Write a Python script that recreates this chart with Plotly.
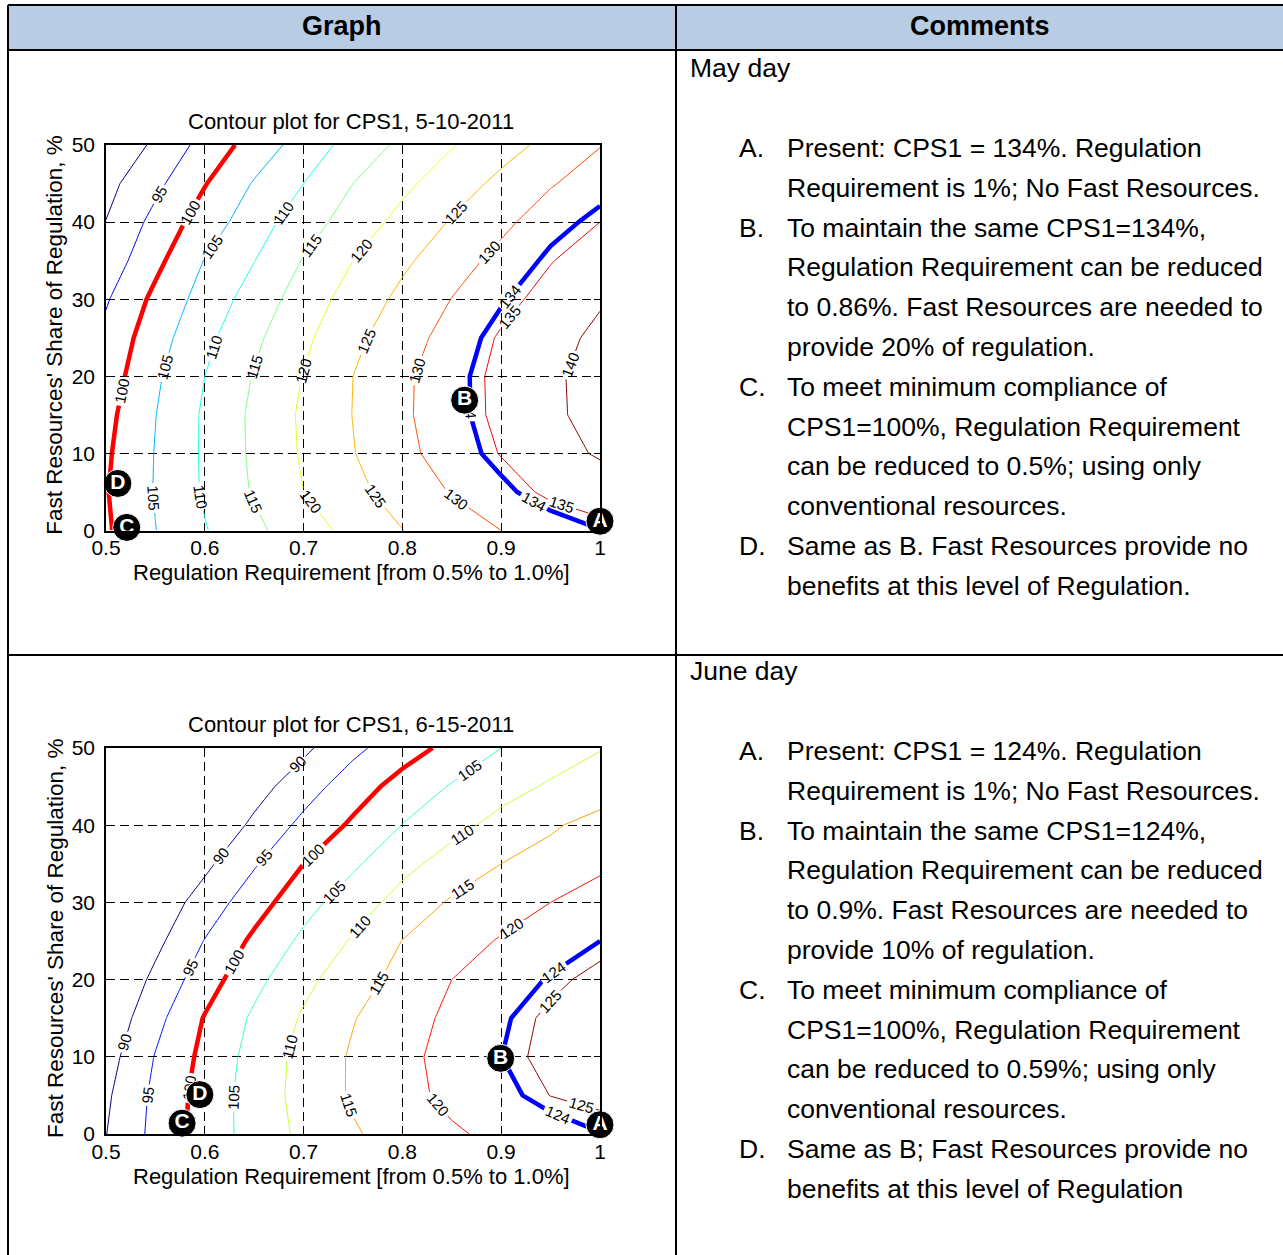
import plotly.graph_objects as go

W, H = 1283, 1255
FONT = "Liberation Sans, Arial, sans-serif"

# ---- data -----------------------------------------------------------------
# Grid: regulation requirement (x) and fast resources' share of regulation (y)
reg_req = [0.50, 0.55, 0.60, 0.65, 0.70, 0.75, 0.80, 0.85, 0.90, 0.95, 1.00]
fast_share = [0, 5, 10, 15, 20, 25, 30, 35, 40, 45, 50]

# CPS1 (%) on the grid, one row per fast_share value
cps1_may = [
    [99.3, 104.9, 109.7, 113.9, 117.8, 121.5, 124.9, 127.5, 130.0, 132.0, 133.9],
    [99.7, 105.3, 110.6, 115.5, 120.0, 123.7, 127.1, 130.3, 133.1, 135.9, 137.0],
    [99.3, 105.2, 110.7, 115.9, 120.6, 124.8, 128.7, 132.2, 135.2, 138.0, 140.6],
    [98.6, 104.9, 110.7, 116.0, 120.8, 125.1, 129.2, 132.8, 136.0, 139.0, 141.9],
    [97.4, 104.2, 110.0, 115.3, 120.2, 125.0, 129.1, 132.8, 136.1, 139.1, 142.0],
    [96.3, 102.9, 108.7, 114.0, 119.0, 123.8, 127.9, 131.8, 135.5, 138.3, 141.1],
    [94.5, 101.2, 107.0, 112.1, 117.4, 122.0, 126.2, 130.1, 133.6, 136.6, 139.5],
    [92.0, 98.7, 105.2, 109.9, 115.3, 120.0, 124.1, 127.8, 131.5, 134.8, 137.3],
    [90.1, 96.5, 102.4, 107.7, 112.7, 117.3, 121.5, 125.4, 128.8, 132.7, 135.0],
    [88.5, 93.8, 99.75, 105.4, 110.0, 115.0, 118.9, 122.6, 126.2, 129.6, 132.6],
    [85.3, 91.0, 96.7, 102.1, 107.1, 111.9, 116.1, 119.7, 123.1, 126.4, 129.8],
]
cps1_june = [
    [89.9, 96.4, 102.1, 107.0, 111.1, 114.5, 117.0, 119.4, 121.1, 122.6, 123.9],
    [89.2, 96.1, 102.0, 107.2, 111.7, 115.6, 118.6, 121.1, 123.2, 125.05, 125.7],
    [87.9, 95.25, 101.3, 106.8, 111.6, 115.6, 118.8, 121.55, 123.97, 125.9, 126.6],
    [86.2, 93.5, 100.3, 105.8, 110.6, 114.75, 118.05, 121.0, 123.6, 125.6, 126.6],
    [84.5, 91.2, 97.7, 103.6, 108.7, 112.9, 116.6, 120.0, 122.2, 124.3, 125.9],
    [82.2, 88.7, 95.2, 101.0, 106.05, 110.5, 115.1, 117.9, 120.4, 122.2, 124.0],
    [81.2, 86.7, 92.2, 97.8, 103.2, 107.6, 111.8, 115.6, 117.8, 120.0, 122.0],
    [77.5, 83.2, 88.9, 94.5, 100.0, 104.2, 108.6, 112.0, 115.0, 117.0, 119.1],
    [74.6, 80.1, 85.6, 91.0, 96.3, 100.8, 105.1, 108.5, 111.5, 114.3, 117.0],
    [73.6, 78.4, 83.2, 88.0, 92.8, 97.6, 101.9, 105.4, 108.3, 110.6, 112.0],
    [69.8, 74.6, 79.4, 84.2, 89.0, 93.8, 97.8, 101.4, 105.0, 107.5, 109.8],
]

levels_may = [90, 95, 105, 110, 115, 120, 125, 130, 135, 140]
levels_june = [90, 95, 105, 110, 115, 120, 125]
min_compliance = 100
present_may = 134
present_june = 124

point_labels = ["A", "B", "C", "D"]
points_may_x = [1.0, 0.863, 0.521, 0.512]
points_may_y = [1.2, 16.9, 0.4, 6.1]
points_june_x = [1.0, 0.8995, 0.577, 0.595]
points_june_y = [1.2, 9.8, 1.4, 5.1]

titles = ["Contour plot for CPS1, 5-10-2011", "Contour plot for CPS1, 6-15-2011"]
x_title = "Regulation Requirement [from 0.5% to 1.0%]"
y_title = "Fast Resources' Share of Regulation, %"
x_tickvals = [0.5, 0.6, 0.7, 0.8, 0.9, 1.0]
x_ticktext = ["0.5", "0.6", "0.7", "0.8", "0.9", "1"]
y_tickvals = [0, 10, 20, 30, 40, 50]

comments = [
    ("May day", [
        ("A.", ["Present: CPS1 = 134%. Regulation",
                "Requirement is 1%; No Fast Resources."]),
        ("B.", ["To maintain the same CPS1=134%,",
                "Regulation Requirement can be reduced",
                "to 0.86%. Fast Resources are needed to",
                "provide 20% of regulation."]),
        ("C.", ["To meet minimum compliance of",
                "CPS1=100%, Regulation Requirement",
                "can be reduced to 0.5%; using only",
                "conventional resources."]),
        ("D.", ["Same as B. Fast Resources provide no",
                "benefits at this level of Regulation."]),
    ]),
    ("June day", [
        ("A.", ["Present: CPS1 = 124%. Regulation",
                "Requirement is 1%; No Fast Resources."]),
        ("B.", ["To maintain the same CPS1=124%,",
                "Regulation Requirement can be reduced",
                "to 0.9%. Fast Resources are needed to",
                "provide 10% of regulation."]),
        ("C.", ["To meet minimum compliance of",
                "CPS1=100%, Regulation Requirement",
                "can be reduced to 0.59%; using only",
                "conventional resources."]),
        ("D.", ["Same as B; Fast Resources provide no",
                "benefits at this level of Regulation"]),
    ]),
]


# ---- helpers ----------------------------------------------------------------
def px(x):
    return x / W


def py(y):
    return 1 - y / H


def jet(t):
    t = min(max(t, 0.0), 1.0)
    def ch(c):
        return int(round(255 * min(max(1.5 - abs(4 * t - c), 0.0), 1.0)))
    return f"rgb({ch(3)},{ch(2)},{ch(1)})"


# One contour level per trace.  The level list is padded with far-off empty
# levels (above any CPS1 value) so plotly spaces several labels along each line.
LABEL_PAD_LEVELS = 60
LEVEL_STEP = 1000


def contour_line(z, level, color, width, xa, ya):
    return go.Contour(
        x=reg_req, y=fast_share, z=z, xaxis=xa, yaxis=ya,
        autocontour=False,
        contours=dict(start=level, end=level + LEVEL_STEP * (LABEL_PAD_LEVELS - 1),
                      size=LEVEL_STEP, coloring="none", showlabels=True,
                      labelformat=".0f",
                      labelfont=dict(size=15, color="black", family=FONT)),
        line=dict(color=color, width=width, smoothing=0),
        showscale=False, hoverinfo="skip",
    )


fig = go.Figure()

panels = [
    (cps1_may, levels_may, present_may, points_may_x, points_may_y, "x", "y"),
    (cps1_june, levels_june, present_june, points_june_x, points_june_y, "x2", "y2"),
]
for z, levels, present, mx, my, xa, ya in panels:
    lo, hi = min(levels), max(levels)
    for lev in levels:
        fig.add_trace(contour_line(z, lev, jet((lev - lo) / (hi - lo)), 1, xa, ya))
    fig.add_trace(contour_line(z, min_compliance, "#ff0000", 4.5, xa, ya))
    fig.add_trace(contour_line(z, present, "#0000ff", 4.5, xa, ya))
    fig.add_trace(go.Scatter(
        x=mx, y=my, xaxis=xa, yaxis=ya, mode="markers+text",
        text=[f"<b>{t}</b>" for t in point_labels], textposition="middle center",
        textfont=dict(size=21, color="white", family=FONT),
        marker=dict(size=28, color="black", line=dict(color="white", width=1)),
        cliponaxis=False, hoverinfo="skip", showlegend=False,
    ))

# plot areas in pixels: left, right, top, bottom
plot_boxes = [(106, 600, 145, 530.5), (106, 600, 748, 1134)]

axis_common = dict(
    showgrid=True, griddash="9px,5px", gridcolor="black", gridwidth=1,
    ticks="inside", ticklen=6, tickcolor="black", tickwidth=1,
    showline=True, linecolor="black", linewidth=1.5, mirror="ticks",
    zeroline=False, automargin=False,
    tickfont=dict(size=21, color="black", family=FONT),
)

layout_axes = {}
for i, (l, r, t, b) in enumerate(plot_boxes):
    sfx = "" if i == 0 else str(i + 1)
    layout_axes["xaxis" + sfx] = dict(
        axis_common, domain=[px(l), px(r)], range=[0.5, 1.0],
        tickvals=x_tickvals, ticktext=x_ticktext, anchor="y" + sfx,
        ticklabelstandoff=-2)
    layout_axes["yaxis" + sfx] = dict(
        axis_common, domain=[py(b), py(t)], range=[0, 50],
        tickvals=y_tickvals, anchor="x" + sfx, ticklabelstandoff=5)

annotations = []
for (l, r, t, b), title in zip(plot_boxes, titles):
    cx = (l + r) / 2
    annotations.append(dict(x=px(cx - 2), y=py(t - 24), text=title, showarrow=False,
                            xref="paper", yref="paper", xanchor="center", yanchor="middle",
                            font=dict(size=22, color="black", family=FONT)))
    annotations.append(dict(x=px(cx - 2), y=py(b + 42), text=x_title, showarrow=False,
                            xref="paper", yref="paper", xanchor="center", yanchor="middle",
                            font=dict(size=22, color="black", family=FONT)))
    annotations.append(dict(x=px(55), y=py((t + b) / 2 - 3), text=y_title, showarrow=False,
                            textangle=-90, xref="paper", yref="paper",
                            xanchor="center", yanchor="middle",
                            font=dict(size=22.5, color="black", family=FONT)))

# table header
annotations.append(dict(x=px(342), y=py(26), text="<b>Graph</b>", showarrow=False,
                        xref="paper", yref="paper", xanchor="center", yanchor="middle",
                        font=dict(size=27, color="black", family=FONT)))
annotations.append(dict(x=px(980), y=py(26), text="<b>Comments</b>", showarrow=False,
                        xref="paper", yref="paper", xanchor="center", yanchor="middle",
                        font=dict(size=27, color="black", family=FONT)))

# comment column
row_tops = [68, 671]
line_gap = 39.8
for (heading, items), top in zip(comments, row_tops):
    annotations.append(dict(x=px(688), y=py(top), text=heading, showarrow=False,
                            xref="paper", yref="paper", xanchor="left", yanchor="middle",
                            font=dict(size=26.5, color="black", family=FONT)))
    k = 0
    for letter, lines in items:
        annotations.append(dict(x=px(737), y=py(top + 80 + k * line_gap), text=letter,
                                showarrow=False, xref="paper", yref="paper",
                                xanchor="left", yanchor="middle",
                                font=dict(size=26.5, color="black", family=FONT)))
        for line in lines:
            annotations.append(dict(x=px(785), y=py(top + 80 + k * line_gap), text=line,
                                    showarrow=False, xref="paper", yref="paper",
                                    xanchor="left", yanchor="middle",
                                    font=dict(size=26.5, color="black", family=FONT)))
            k += 1

# table frame
shapes = [
    dict(type="rect", xref="paper", yref="paper", x0=px(8), x1=px(W), y0=py(50), y1=py(5),
         fillcolor="#b8cce4", line=dict(width=0), layer="below"),
]
for x0, y0, x1, y1 in [(8, 5, W, 5), (8, 50, W, 50), (8, 655, W, 655),
                       (8, 5, 8, H), (676, 5, 676, H)]:
    shapes.append(dict(type="line", xref="paper", yref="paper",
                       x0=px(x0), y0=py(y0), x1=px(x1), y1=py(y1),
                       line=dict(color="black", width=2)))

fig.update_layout(
    width=W, height=H,
    margin=dict(l=0, r=0, t=0, b=0, pad=0, autoexpand=False),
    paper_bgcolor="white", plot_bgcolor="white", showlegend=False,
    annotations=annotations, shapes=shapes, **layout_axes,
)

fig.write_html("out.html")
